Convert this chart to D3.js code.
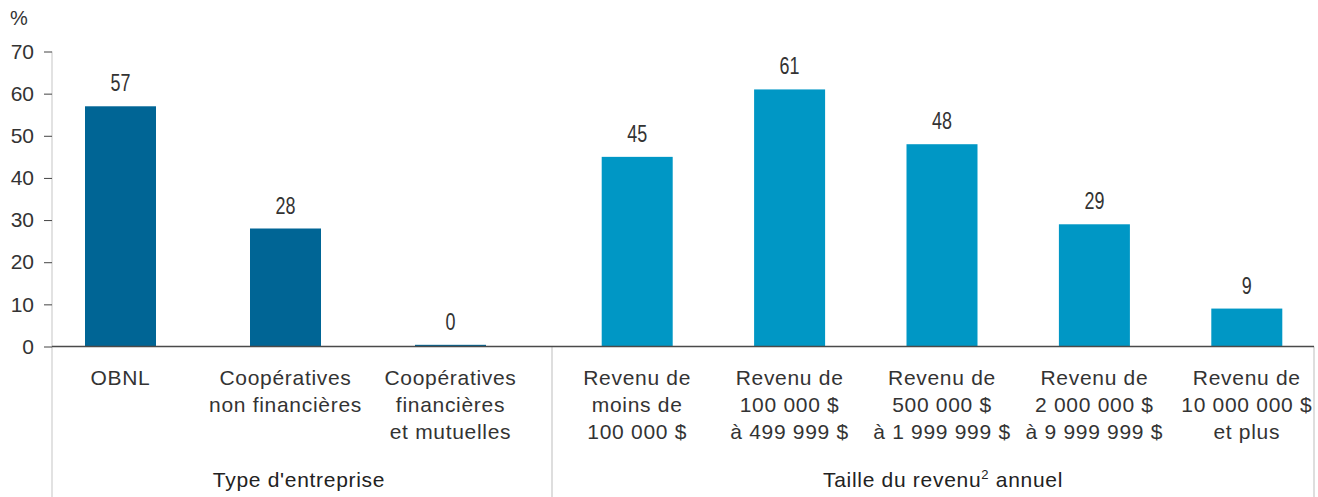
<!DOCTYPE html>
<html>
<head>
<meta charset="utf-8">
<script src="https://cdn.jsdelivr.net/npm/d3@7"></script>
<style>
    body { margin: 0; background: #fff; }
    svg { display: block; }
</style>
</head>
<body>
<svg id="chart" width="1318" height="497"></svg>
<script>
// data
const typeCategories = ["OBNL", "Coop non fin", "Coop fin"];
const typeValues = [57, 28, 0.4];
const typeLabels = ["57", "28", "0"];
const typeLines = [
    ["OBNL"],
    ["Coopératives", "non financières"],
    ["Coopératives", "financières", "et mutuelles"]
];

const revenueCategories = ["<100k", "100k-499k", "500k-2M", "2M-10M", "10M+"];
const revenueValues = [45, 61, 48, 29, 9];
const revenueLabels = ["45", "61", "48", "29", "9"];
const revenueLines = [
    ["Revenu de", "moins de", "100 000 $"],
    ["Revenu de", "100 000 $", "à 499 999 $"],
    ["Revenu de", "500 000 $", "à 1 999 999 $"],
    ["Revenu de", "2 000 000 $", "à 9 999 999 $"],
    ["Revenu de", "10 000 000 $", "et plus"]
];

const yTicks = [0, 10, 20, 30, 40, 50, 60, 70];

const svg = d3.select("#chart");
const axisX = 52;
const rightX = 1314;
const dividerX = 552;
const barWidth = 71;
const font = "'Liberation Sans', Arial, sans-serif";

const y = d3.scaleLinear().domain([0, 70]).range([346.5, 51.5]);

const groups = [
    {
        cats: typeCategories, values: typeValues, labels: typeLabels, lines: typeLines,
        color: "#006595",
        x: d3.scaleBand().domain(typeCategories).range([38, 533])
    },
    {
        cats: revenueCategories, values: revenueValues, labels: revenueLabels, lines: revenueLines,
        color: "#0097c5",
        x: d3.scaleBand().domain(revenueCategories).range([561, 1323])
    }
];

// y axis light line
svg.append("line")
    .attr("x1", axisX).attr("x2", axisX)
    .attr("y1", y(70)).attr("y2", 497)
    .attr("stroke", "#d9d9d9").attr("stroke-width", 1.5);

const yAxis = d3.axisLeft(y).tickValues(yTicks).tickSize(8).tickPadding(10);
const yg = svg.append("g").attr("transform", `translate(${axisX},0)`).call(yAxis);
yg.select(".domain").remove();
yg.selectAll(".tick line").attr("stroke", "#444");
yg.selectAll(".tick text")
    .attr("font-family", font).attr("font-size", 21).attr("fill", "#333");

svg.append("text")
    .attr("x", 10).attr("y", 25)
    .attr("font-family", font).attr("font-size", 20).attr("fill", "#333")
    .text("%");

// separators below the baseline
[dividerX, rightX].forEach(xx => {
    svg.append("line")
        .attr("x1", xx).attr("x2", xx)
        .attr("y1", y(0)).attr("y2", 497)
        .attr("stroke", "#c8c8c8").attr("stroke-width", 1.2);
});

groups.forEach(g => {
    const data = g.cats.map((c, i) => ({ cat: c, value: g.values[i], label: g.labels[i], lines: g.lines[i] }));
    const cx = d => g.x(d.cat) + g.x.bandwidth() / 2;

    svg.append("g").selectAll("rect")
        .data(data)
        .enter().append("rect")
        .attr("x", d => cx(d) - barWidth / 2)
        .attr("width", barWidth)
        .attr("y", d => y(d.value))
        .attr("height", d => y(0) - y(d.value))
        .attr("fill", g.color);

    // value labels, condensed look
    svg.append("g").selectAll("text")
        .data(data)
        .enter().append("text")
        .attr("transform", d => `translate(${cx(d)},${y(d.value) - 15}) scale(0.78,1)`)
        .attr("text-anchor", "middle")
        .attr("font-family", font)
        .attr("font-size", 23)
        .attr("fill", "#333")
        .text(d => d.label);

    const cl = svg.append("g").selectAll("text")
        .data(data)
        .enter().append("text")
        .attr("text-anchor", "middle")
        .attr("font-family", font)
        .attr("font-size", 21)
        .attr("letter-spacing", 0.7)
        .attr("fill", "#333");

    cl.selectAll("tspan")
        .data(d => d.lines.map(l => ({ l, x: cx(d) })))
        .enter().append("tspan")
        .attr("x", d => d.x)
        .attr("y", (d, i) => 385 + i * 27)
        .text(d => d.l);
});

// baseline
svg.append("line")
    .attr("x1", axisX).attr("x2", rightX)
    .attr("y1", y(0)).attr("y2", y(0))
    .attr("stroke", "#4a4a4a").attr("stroke-width", 1.5);

// group titles
svg.append("text")
    .attr("x", 299).attr("y", 487)
    .attr("text-anchor", "middle")
    .attr("font-family", font).attr("font-size", 21).attr("letter-spacing", 0.7).attr("fill", "#222")
    .text("Type d'entreprise");

const t2 = svg.append("text")
    .attr("x", 943).attr("y", 487)
    .attr("text-anchor", "middle")
    .attr("font-family", font).attr("font-size", 21).attr("letter-spacing", 0.7).attr("fill", "#222");
t2.append("tspan").text("Taille du revenu");
t2.append("tspan").attr("font-size", 13).attr("dy", -8).text("2");
t2.append("tspan").attr("dy", 8).text(" annuel");
</script>
</body>
</html>
